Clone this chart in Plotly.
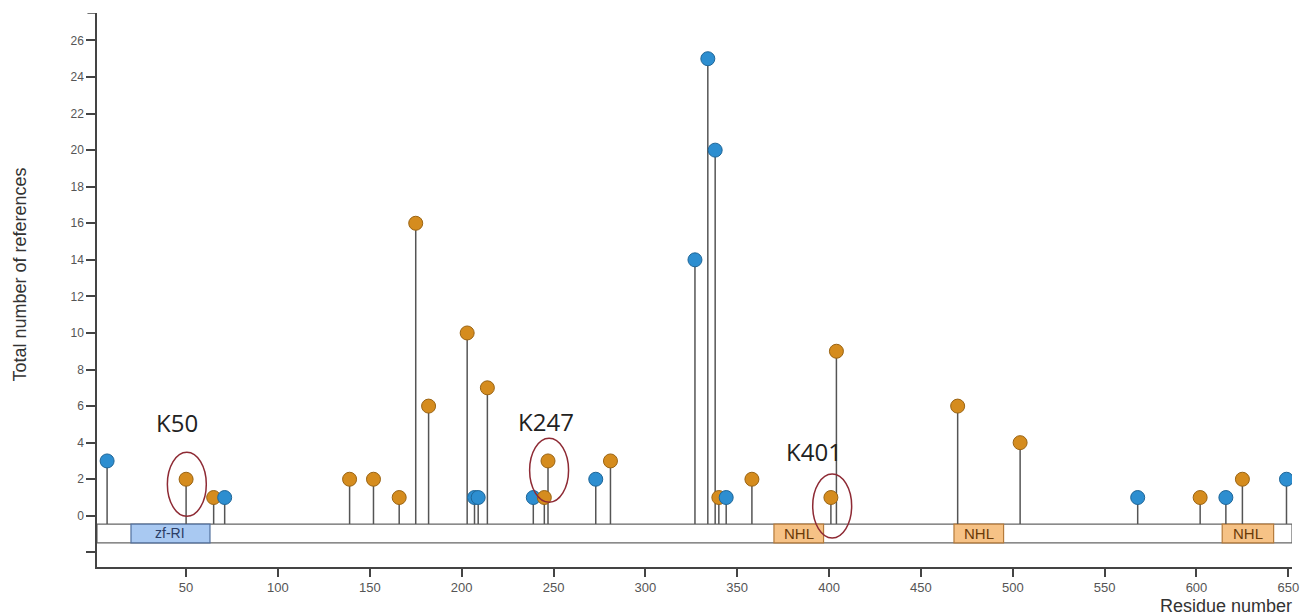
import plotly.graph_objects as go

# ---------------- data ----------------
positions = [7, 50, 65, 71, 139, 152, 166, 175, 182, 203, 207, 209, 214, 239, 245, 247,
             273, 281, 327, 334, 338, 340, 344, 358, 401, 404, 470, 504, 568, 602, 616, 625, 649]
counts = [3, 2, 1, 1, 2, 2, 1, 16, 6, 10, 1, 1, 7, 1, 1, 3,
          2, 3, 14, 25, 20, 1, 1, 2, 1, 9, 6, 4, 1, 1, 1, 2, 2]
site_type = ["B", "O", "O", "B", "O", "O", "O", "O", "O", "O", "B", "B", "O", "B", "O", "O",
             "B", "O", "B", "B", "B", "O", "B", "O", "O", "O", "O", "O", "B", "O", "B", "O", "B"]

domain_names = ["zf-RI", "NHL", "NHL", "NHL"]
domain_start = [20, 370, 468, 614]
domain_end = [63, 397, 495, 642]

highlight_labels = ["K50", "K247", "K401"]
highlight_pos = [50, 247, 401]

protein_length = 652
y_ticks = [-2, 0, 2, 4, 6, 8, 10, 12, 14, 16, 18, 20, 22, 24, 26]
x_ticks = [50, 100, 150, 200, 250, 300, 350, 400, 450, 500, 550, 600, 650]

# ---------------- styles ----------------
BAR_TOP, BAR_BOT = -0.45, -1.48
Y_MIN, Y_MAX = -2.8, 27.5
X_MIN = 1.5
fill_col = {"O": "#D58C1E", "B": "#2D8ED0"}
edge_col = {"O": "#9A6414", "B": "#1F6698"}
domain_fill = {"zf-RI": "#A9C9F2", "NHL": "#F6C286"}
domain_edge = {"zf-RI": "#52709E", "NHL": "#B57A3A"}
domain_text = {"zf-RI": "#2B3E66", "NHL": "#6A3A08"}
domain_fsize = {"zf-RI": 14, "NHL": 15}
label_xy = {"K50": (45, 5.1), "K247": (245.7, 5.15), "K401": (392, 3.5)}
ellipse_c = {"K50": (50.4, 1.72), "K247": (247.6, 2.49), "K401": (401.7, 0.54)}
ell_hw, ell_hh = 10.6, 1.75

fig = go.Figure()

# stems
sx, sy = [], []
for p, c in zip(positions, counts):
    sx += [p, p, None]
    sy += [BAR_TOP, c, None]
fig.add_trace(go.Scatter(x=sx, y=sy, mode="lines",
                         line=dict(color="#555555", width=1.5),
                         hoverinfo="skip", showlegend=False))

# markers
fig.add_trace(go.Scatter(
    x=positions, y=counts, mode="markers",
    marker=dict(size=14, color=[fill_col[t] for t in site_type],
                line=dict(color=[edge_col[t] for t in site_type], width=1)),
    showlegend=False))

shapes = []
# protein bar
shapes.append(dict(type="rect", xref="x", yref="y", x0=X_MIN, x1=protein_length,
                   y0=BAR_BOT, y1=BAR_TOP, fillcolor="white",
                   line=dict(color="#666666", width=1.2), layer="below"))
annotations = []
for n, s, e in zip(domain_names, domain_start, domain_end):
    shapes.append(dict(type="rect", xref="x", yref="y", x0=s, x1=e, y0=BAR_BOT, y1=BAR_TOP,
                       fillcolor=domain_fill[n], line=dict(color=domain_edge[n], width=1.2),
                       layer="below"))
    annotations.append(dict(x=(s + e) / 2, y=(BAR_TOP + BAR_BOT) / 2, xref="x", yref="y",
                            text=n, showarrow=False,
                            font=dict(family="Arial, Liberation Sans", size=domain_fsize[n],
                                      color=domain_text[n])))

for lab in highlight_labels:
    cx, cy = ellipse_c[lab]
    shapes.append(dict(type="circle", xref="x", yref="y",
                       x0=cx - ell_hw, x1=cx + ell_hw, y0=cy - ell_hh, y1=cy + ell_hh,
                       line=dict(color="#8E2A34", width=1.5)))
    lx, ly = label_xy[lab]
    annotations.append(dict(x=lx, y=ly, xref="x", yref="y", text=lab, showarrow=False,
                            font=dict(family="Open Sans, Lato, sans-serif", size=24,
                                      color="#222222")))

# top cap of y axis
shapes.append(dict(type="line", xref="paper", yref="y", x0=-0.008, x1=0, y0=Y_MAX, y1=Y_MAX,
                   line=dict(color="#444444", width=1.5)))

annotations.append(dict(text="Total number of references", xref="paper", yref="paper",
                        x=-0.064, y=0.527, textangle=-90, showarrow=False,
                        xanchor="center", yanchor="middle",
                        font=dict(family="Arial, Liberation Sans", size=18, color="#333333")))
annotations.append(dict(text="Residue number", xref="paper", yref="paper",
                        x=1.001, y=-0.05, xanchor="right", yanchor="top", showarrow=False,
                        borderpad=0,
                        font=dict(family="Arial, Liberation Sans", size=18, color="#333333")))

fig.update_layout(
    width=1304, height=607,
    margin=dict(l=89, r=20, t=5, b=48),
    plot_bgcolor="white", paper_bgcolor="white",
    shapes=shapes, annotations=annotations,
    xaxis=dict(range=[X_MIN, protein_length], tickvals=x_ticks,
               ticktext=[str(v) for v in x_ticks], ticks="outside", ticklen=8,
               tickwidth=1.5, tickcolor="#444444", showline=True, linecolor="#444444",
               linewidth=1.5, showgrid=False, zeroline=False,
               tickfont=dict(family="Arial, Liberation Sans", size=13, color="#555555")),
    yaxis=dict(range=[Y_MIN, Y_MAX], tickvals=y_ticks,
               ticktext=["" if v < 0 else str(v) for v in y_ticks], ticks="outside",
               ticklen=9, tickwidth=1.5, tickcolor="#444444", showline=True,
               linecolor="#444444", linewidth=1.5, showgrid=False, zeroline=False,
               tickfont=dict(family="Arial, Liberation Sans", size=12, color="#555555")),
)

fig.write_html("out.html")
